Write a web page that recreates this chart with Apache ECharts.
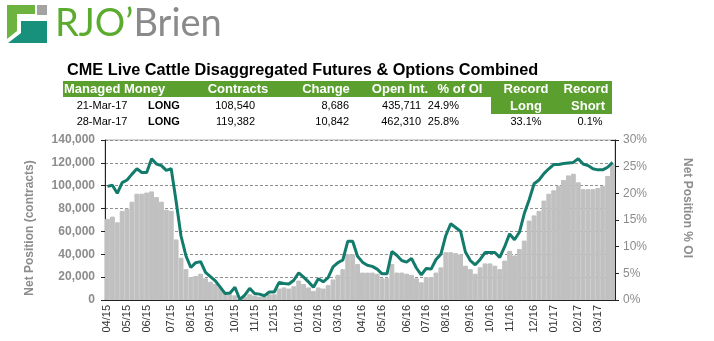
<!DOCTYPE html>
<html>
<head>
<meta charset="utf-8">
<script src="https://cdn.jsdelivr.net/npm/echarts@6/dist/echarts.min.js"></script>
<style>
html,body{margin:0;padding:0;background:#fff;}
#chart{width:714px;height:341px;}
</style>
</head>
<body>
<div id="chart"></div>
<script>
// Weekly report dates (MM/DD/YY)
const categories = [
'04/07/15','04/14/15','04/21/15','04/28/15','05/05/15','05/12/15','05/19/15','05/26/15',
'06/02/15','06/09/15','06/16/15','06/23/15','06/30/15','07/07/15','07/14/15','07/21/15','07/28/15',
'08/04/15','08/11/15','08/18/15','08/25/15','09/01/15','09/08/15','09/15/15','09/22/15','09/29/15',
'10/06/15','10/13/15','10/20/15','10/27/15','11/03/15','11/10/15','11/17/15','11/24/15',
'12/01/15','12/08/15','12/15/15','12/22/15','12/29/15',
'01/05/16','01/12/16','01/19/16','01/26/16','02/02/16','02/09/16','02/16/16','02/23/16',
'03/01/16','03/08/16','03/15/16','03/22/16','03/29/16','04/05/16','04/12/16','04/19/16','04/26/16',
'05/03/16','05/10/16','05/17/16','05/24/16','05/31/16','06/07/16','06/14/16','06/21/16','06/28/16',
'07/05/16','07/12/16','07/19/16','07/26/16','08/02/16','08/09/16','08/16/16','08/23/16','08/30/16',
'09/06/16','09/13/16','09/20/16','09/27/16','10/04/16','10/11/16','10/18/16','10/25/16',
'11/01/16','11/08/16','11/15/16','11/22/16','11/29/16','12/06/16','12/13/16','12/20/16','12/27/16',
'01/03/17','01/10/17','01/17/17','01/24/17','01/31/17','02/07/17','02/14/17','02/21/17','02/28/17',
'03/07/17','03/14/17','03/21/17','03/28/17'
];

// Net position (contracts) - grey bars
const netContracts = [
71000,73000,68000,78000,80000,86000,93000,93000,94000,95000,90000,86000,79000,78000,
53000,37000,27000,20000,21000,23000,19000,16000,14000,11000,7000,5000,4000,1000,3000,5000,
4000,3000,3000,5000,5000,10000,11000,10000,12000,17000,14000,11000,8000,11000,10000,13000,
18000,22000,27000,40000,40000,31500,24000,24000,24000,23000,19000,19000,31500,24000,24000,
23000,22000,19000,15500,20000,20000,24000,28600,41800,41800,41000,40000,30000,27000,23000,
28600,32000,32000,30000,27000,34500,43000,39000,44700,52000,69500,74000,78000,87000,93000,
96000,100000,105000,109000,110500,103000,97000,97000,97000,98000,99854,108540,119382
];

// Net position as % of open interest - green line
const pctOI = [
21.3,21.5,20.0,22.0,22.5,23.6,24.6,23.9,23.9,26.5,25.5,25.2,24.3,24.6,
18.5,12.0,8.3,6.1,7.0,7.2,5.2,4.4,3.6,2.4,1.2,1.3,2.4,0.1,0.9,2.2,
1.2,1.1,0.8,1.5,1.5,3.3,3.1,3.0,3.7,5.1,4.3,3.4,2.4,4.0,3.4,4.2,
6.2,7.0,7.5,11.0,11.0,8.2,7.1,6.5,6.3,5.8,4.9,4.9,9.1,8.4,7.4,
7.1,7.8,6.0,4.7,5.9,5.8,7.6,8.6,12.1,14.3,13.6,12.9,9.0,7.4,6.6,
7.6,8.9,8.9,8.9,8.0,10.0,12.4,11.3,12.7,16.2,18.8,21.8,22.5,23.7,24.6,
25.4,25.4,25.6,25.7,25.8,26.5,25.5,25.2,24.6,24.4,24.4,24.9,25.8
];

const leftTicks = [0,20000,40000,60000,80000,100000,120000,140000];
const rightTicks = [0,5,10,15,20,25,30];

// Summary table
const tableHeader = ['Managed Money','Contracts','Change','Open Int.','% of OI','Record','Record'];
const tableSub = ['Long','Short'];
const row1 = ['21-Mar-17','LONG','108,540','8,686','435,711','24.9%'];
const row2 = ['28-Mar-17','LONG','119,382','10,842','462,310','25.8%','33.1%','0.1%'];

const titleText = 'CME Live Cattle Disaggregated Futures & Options Combined';

const GREEN = '#5b9f2e';
const TEAL = '#137b6b';
const BARGREY = '#c0c0c0';
const GREYTXT = '#8c8c8c';
const FONT = 'Arial, "Liberation Sans", sans-serif';

function fmtThousands(v){ return String(v).replace(/\B(?=(\d{3})+(?!\d))/g, ','); }

const chart = echarts.init(document.getElementById('chart'), null, {renderer:'canvas'});

function t(x, y, text, opt){
  return {type:'text', x:x, y:y, style:Object.assign({text:text, fill:'#000', font:'11px ' + FONT, textVerticalAlign:'middle', textAlign:'left'}, opt||{})};
}
const HF = 'bold 13px ' + FONT;

const graphics = [
  // logo
  {type:'polygon', shape:{points:[[7,5],[35,5],[35,14],[17,14],[17,31],[7,39]]}, style:{fill:'#6cb33f'}},
  {type:'rect', shape:{x:37,y:5,width:10,height:10}, style:{fill:'#a3a3a3'}},
  {type:'polygon', shape:{points:[[21,21],[47,21],[47,43],[8,43],[21,33]]}, style:{fill:'#17917c'}},
  {type:'text', x:55, y:43, style:{
    text:'{g|RJO\u2019}{b|Brien}', textVerticalAlign:'bottom',
    rich:{g:{fill:'#5aab2e', font:'38px Lato, "DejaVu Sans", sans-serif'}, b:{fill:'#8a8a8a', font:'38px Lato, "DejaVu Sans", sans-serif'}}
  }},
  // title
  t(67, 71, titleText, {font:'bold 16.3px ' + FONT}),
  // table green areas
  {type:'rect', shape:{x:63,y:81,width:549,height:16}, style:{fill:GREEN}},
  {type:'rect', shape:{x:491,y:97,width:121,height:17}, style:{fill:GREEN}},
  t(64, 89, tableHeader[0], {fill:'#fff', font:HF}),
  t(238, 89, tableHeader[1], {fill:'#fff', font:HF, textAlign:'center'}),
  t(326, 89, tableHeader[2], {fill:'#fff', font:HF, textAlign:'center'}),
  t(400, 89, tableHeader[3], {fill:'#fff', font:HF, textAlign:'center'}),
  t(460, 89, tableHeader[4], {fill:'#fff', font:HF, textAlign:'center'}),
  t(526, 89, tableHeader[5], {fill:'#fff', font:HF, textAlign:'center'}),
  t(586, 89, tableHeader[6], {fill:'#fff', font:HF, textAlign:'center'}),
  t(526, 106, tableSub[0], {fill:'#fff', font:HF, textAlign:'center'}),
  t(588, 106, tableSub[1], {fill:'#fff', font:HF, textAlign:'center'}),
  // row 1
  t(102, 106, row1[0], {textAlign:'center'}),
  t(148, 106, row1[1], {font:'bold 11px ' + FONT}),
  t(255, 106, row1[2], {textAlign:'right'}),
  t(349, 106, row1[3], {textAlign:'right'}),
  t(421, 106, row1[4], {textAlign:'right'}),
  t(459, 106, row1[5], {textAlign:'right'}),
  // row 2
  t(102, 122, row2[0], {textAlign:'center'}),
  t(148, 122, row2[1], {font:'bold 11px ' + FONT}),
  t(255, 122, row2[2], {textAlign:'right'}),
  t(349, 122, row2[3], {textAlign:'right'}),
  t(421, 122, row2[4], {textAlign:'right'}),
  t(459, 122, row2[5], {textAlign:'right'}),
  t(526, 122, row2[6], {textAlign:'center'}),
  t(590, 122, row2[7], {textAlign:'center'}),
  // axis titles
  {type:'text', x:30, y:228, rotation:Math.PI/2, style:{text:'Net Position (contracts)', fill:GREYTXT, font:'bold 12px ' + FONT, textAlign:'center', textVerticalAlign:'middle'}},
  {type:'text', x:687, y:208, rotation:-Math.PI/2, style:{text:'Net Position % OI', fill:GREYTXT, font:'bold 12px ' + FONT, textAlign:'center', textVerticalAlign:'middle'}}
];

const option = {
  animation:false,
  backgroundColor:'#fff',
  grid:{left:105, right:99, top:140, bottom:41, show:true, borderColor:'#b0b0b0', borderWidth:1, backgroundColor:'transparent'},
  xAxis:{
    type:'category', data:categories, boundaryGap:true,
    axisLine:{lineStyle:{color:'#222', width:1}},
    axisTick:{show:false},
    axisLabel:{
      rotate:90, fontSize:11, fontFamily:FONT, color:'#333', margin:5,
      interval:function(i, v){ return i === 0 || categories[i].slice(0,2) !== categories[i-1].slice(0,2); },
      formatter:function(v){ return v.slice(0,2) + '/' + v.slice(6); }
    },
    splitLine:{show:false}
  },
  yAxis:[
    {type:'value', min:leftTicks[0], max:leftTicks[leftTicks.length-1], interval:leftTicks[1]-leftTicks[0], position:'left',
     axisLine:{show:true, lineStyle:{color:'#222'}},
     axisTick:{show:true, length:4, lineStyle:{color:'#222'}},
     axisLabel:{color:GREYTXT, fontWeight:'bold', fontSize:12, fontFamily:FONT, margin:10, formatter:fmtThousands},
     splitLine:{show:true, lineStyle:{color:'#8f8f8f', type:[3,2], width:1}}
    },
    {type:'value', min:rightTicks[0], max:rightTicks[rightTicks.length-1], interval:rightTicks[1]-rightTicks[0], position:'right',
     axisLine:{show:true, lineStyle:{color:'#222'}},
     axisTick:{show:true, length:4, lineStyle:{color:'#222'}},
     axisLabel:{color:GREYTXT, fontSize:12, fontFamily:FONT, margin:8, formatter:'{value}%'},
     splitLine:{show:false}
    },
    {type:'value', min:rightTicks[0], max:rightTicks[rightTicks.length-1], interval:rightTicks[1]-rightTicks[0], position:'right',
     axisLine:{show:false},
     axisTick:{show:true, inside:true, length:4, lineStyle:{color:'#222'}},
     axisLabel:{show:false},
     splitLine:{show:false}
    }
  ],
  series:[
    {type:'bar', name:'Net Position', data:netContracts, yAxisIndex:0, barCategoryGap:'0%', clip:true,
     itemStyle:{color:BARGREY, borderWidth:1, borderColor:BARGREY}, z:1},
    {type:'line', name:'% OI', data:pctOI, yAxisIndex:1, symbol:'none', smooth:false,
     lineStyle:{color:TEAL, width:3}, z:3}
  ],
  graphic:graphics
};
chart.setOption(option);
</script>
</body>
</html>
